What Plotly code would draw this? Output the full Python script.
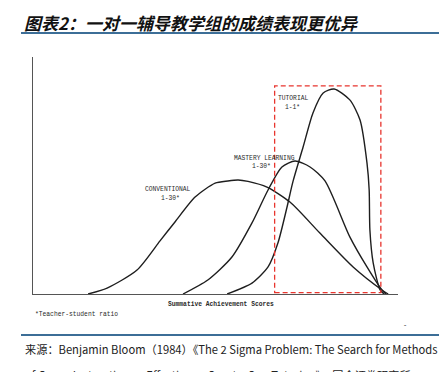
import plotly.graph_objects as go

# ---- data (x = summative achievement score, y = relative frequency) ----
conventional_x = [15.1, 20.3, 28.5, 34.8, 38.9, 44.4, 49.9, 53.4, 56.2, 58.9, 64.1, 70.4, 78.6, 87.7, 95.6, 97.3]
conventional_y = [0.0, 2.5, 10.1, 22.4, 30.4, 40.9, 46.8, 47.7, 48.1, 47.5, 45.1, 38.8, 25.7, 11.4, 1.7, 0.0]

mastery_x = [41.1, 47.9, 54.5, 60.0, 64.4, 68.2, 71.8, 75.9, 80.0, 86.8, 91.5, 95.6, 96.7]
mastery_y = [0.0, 5.9, 15.6, 30.0, 43.9, 53.6, 56.1, 53.6, 47.7, 24.1, 11.4, 1.7, 0.0]

tutorial_x = [53.2, 60.0, 64.4, 67.1, 69.6, 71.2, 74.0, 76.7, 79.5, 82.5, 86.8, 89.6, 91.5, 92.1, 92.3, 93.2, 95.1, 96.2]
tutorial_y = [0.0, 4.6, 11.4, 21.5, 36.7, 47.3, 62.0, 76.4, 84.8, 86.5, 81.9, 73.4, 55.3, 43.9, 27.0, 13.1, 1.7, 0.0]

series_names = ["CONVENTIONAL", "MASTERY LEARNING", "TUTORIAL"]
series_ratio = ["1-30*", "1-30*", "1-1*"]
highlight_x = [66.2, 95.3]
highlight_y = [0.6, 87.8]

title_text = "图表2：一对一辅导教学组的成绩表现更优异"
x_title = "Summative Achievement Scores"
footnote = "*Teacher-student ratio"
source_1 = "来源：Benjamin Bloom（1984）《The 2 Sigma Problem: The Search for Methods"
source_2 = "of Group Instruction as Effective as One-to-One Tutoring》，国金证券研究所"

W, H = 439, 372
L, R, T, B = 33, 41, 57, 78
pw, ph = W - L - R, H - T - B


def px(x):
    return (x - L) / pw


def py(y):
    return (H - B - y) / ph


fig = go.Figure()
line_style = dict(color="#1e1e1e", width=1.4, shape="spline", smoothing=0.7)
for xs, ys, nm in [(conventional_x, conventional_y, series_names[0]),
                   (mastery_x, mastery_y, series_names[1]),
                   (tutorial_x, tutorial_y, series_names[2])]:
    fig.add_trace(go.Scatter(x=xs, y=ys, mode="lines", line=line_style, name=nm,
                             showlegend=False, hoverinfo="skip"))

# red dashed highlight box
fig.add_shape(type="rect", xref="x", yref="y",
              x0=highlight_x[0], x1=highlight_x[1], y0=highlight_y[0], y1=highlight_y[1],
              line=dict(color="#e8352e", width=1.3, dash="5px,3px"))

lab_font = dict(family="Liberation Mono", size=6.3, color="#2a2a2a")
labels = [
    (series_names[0], 37.0, 44.3), (series_ratio[0], 37.8, 40.1),
    (series_names[1], 63.3, 57.0), (series_ratio[1], 62.7, 54.0),
    (series_names[2], 71.2, 82.3), (series_ratio[2], 71.2, 78.9),
]
for txt, x, y in labels:
    fig.add_annotation(x=x, y=y, xref="x", yref="y", text=txt, showarrow=False,
                       font=lab_font, xanchor="center", yanchor="middle")

fig.add_annotation(x=px(221), y=py(304), xref="paper", yref="paper", text="<b>" + x_title + "</b>",
                   showarrow=False, font=dict(family="Liberation Mono", size=6.3, color="#2a2a2a"),
                   xanchor="center", yanchor="middle")
fig.add_annotation(x=px(33), y=py(314), xref="paper", yref="paper", text=footnote,
                   showarrow=False, font=dict(family="Liberation Mono", size=6.3, color="#2a2a2a"),
                   xanchor="left", yanchor="middle")
fig.add_annotation(x=px(405), y=py(325), xref="paper", yref="paper", text="-",
                   showarrow=False, font=dict(family="Liberation Mono", size=7, color="#333"),
                   xanchor="center", yanchor="middle")

# title
fig.add_annotation(x=px(22), y=py(22), xref="paper", yref="paper",
                   text="<b><i>" + title_text + "</i></b>", showarrow=False,
                   font=dict(family="Noto Sans CJK SC", size=17, color="#111"),
                   xanchor="left", yanchor="middle")
# blue rules
for yy in (33, 335):
    fig.add_shape(type="line", xref="paper", yref="paper", x0=px(21), x1=px(439),
                  y0=py(yy), y1=py(yy), line=dict(color="#3c6e97", width=2))

# source
src_font = dict(family="Noto Sans CJK SC", size=11.2, color="#222")
fig.add_annotation(x=px(23), y=py(349), xref="paper", yref="paper", text=source_1,
                   showarrow=False, font=src_font, xanchor="left", yanchor="middle")
fig.add_annotation(x=px(23), y=py(375), xref="paper", yref="paper", text=source_2,
                   showarrow=False, font=src_font, xanchor="left", yanchor="middle")

axis_common = dict(range=[0, 100], showgrid=False, zeroline=False, showticklabels=False,
                   ticks="", showline=True, linecolor="#555", linewidth=1.3, fixedrange=True)
fig.update_xaxes(**axis_common)
fig.update_yaxes(**axis_common)
fig.update_layout(width=W, height=H, margin=dict(l=L, r=R, t=T, b=B, autoexpand=False),
                  paper_bgcolor="white", plot_bgcolor="white", showlegend=False)

fig.write_html("out.html", config={"displayModeBar": False},
               post_script="document.body.style.margin='0';document.body.style.overflow='hidden';")
